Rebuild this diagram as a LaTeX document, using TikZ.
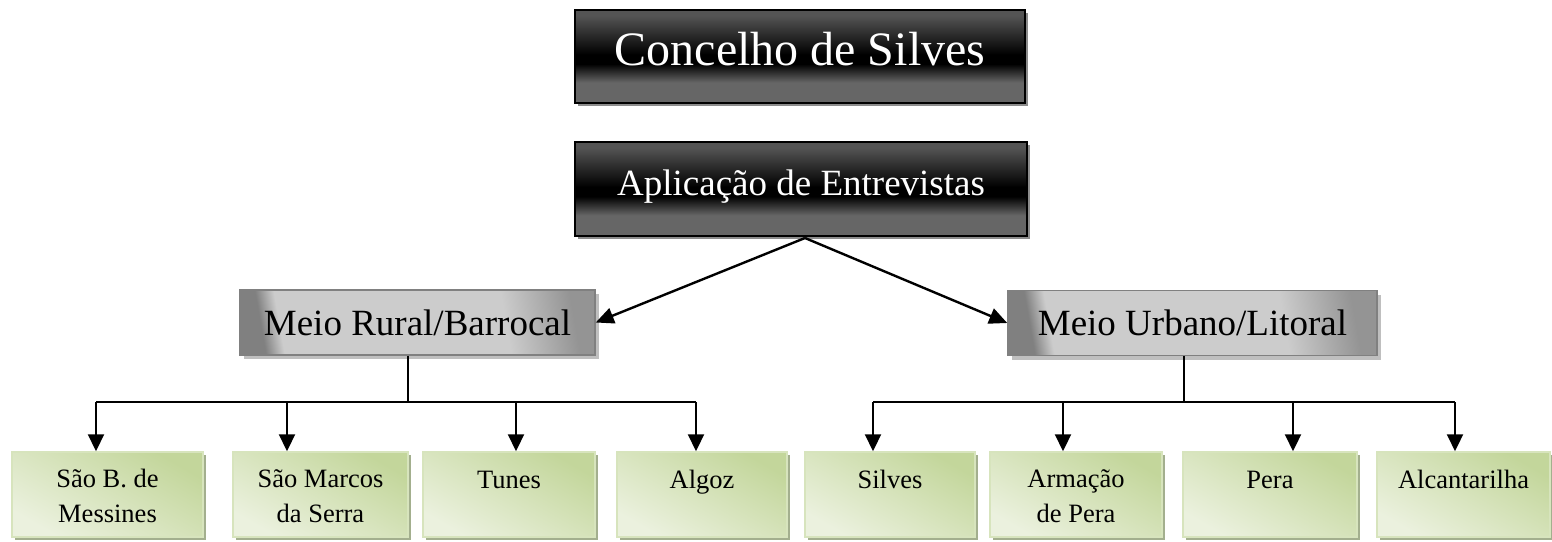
\documentclass[tikz,border=0pt]{standalone}
\usepackage{fontspec}
\setmainfont{Liberation Serif}
\usetikzlibrary{arrows.meta,shadows}

\newlength{\du}
\setlength{\du}{1pt}

\definecolor{dktop}{rgb}{0.33,0.33,0.33}
\definecolor{dkbot}{rgb}{0.40,0.40,0.40}
\definecolor{gydark}{rgb}{0.50,0.50,0.50}
\definecolor{gylight}{rgb}{0.80,0.80,0.80}
\definecolor{gyright}{rgb}{0.58,0.58,0.58}
\definecolor{gyedge}{rgb}{0.50,0.50,0.50}
\definecolor{gnfill}{HTML}{C3D69B}
\definecolor{gnlight}{HTML}{EBF1DE}
\definecolor{gnedge}{HTML}{D7E4BD}
\definecolor{gnshadow}{HTML}{A3AF8E}

\pgfdeclareverticalshading{darkbar}{100bp}{color(0bp)=(dkbot); color(36bp)=(dkbot); color(46bp)=(black); color(51bp)=(black); color(72bp)=(dktop); color(100bp)=(dktop)}
\pgfdeclarehorizontalshading{greybar}{100bp}{color(0bp)=(gydark); color(25bp)=(gydark); color(28bp)=(gylight); color(64bp)=(gylight); color(75bp)=(gyright); color(100bp)=(gyright)}

\tikzset{
  topbox/.style={draw=black, line width=2\du, shading=darkbar, text=white,
    drop shadow={shadow xshift=3\du, shadow yshift=-3\du, fill=black!45, opacity=1}},
  zonebox/.style={draw=gyedge, line width=1.5\du, shading=greybar, shading angle=10,
    minimum height=65\du, font=\fontsize{37}{40}\selectfont, text height=25\du, text depth=0\du,
    drop shadow={shadow xshift=4\du, shadow yshift=-4\du, fill=black!25, opacity=1}},
  placebox/.style={draw=gnedge, line width=1.5\du, top color=gnfill, bottom color=gnlight, shading angle=-30,
    minimum height=85\du, align=center, font=\fontsize{26.5}{35}\selectfont, text height=0\du, text depth=13\du,
    drop shadow={shadow xshift=3\du, shadow yshift=-3\du, fill=gnshadow, opacity=1}},
  twoline/.style={text height=55\du, text depth=0\du},
  diag/.style={-{Triangle[length=18pt,width=16pt]}, line width=2.4\du},
  tree/.style={line width=2.2\du},
  down/.style={tree, -{Triangle[length=17pt,width=16pt]}}
}

\begin{document}
\begin{tikzpicture}[x=\du,y=-\du]
\useasboundingbox (0,0) rectangle (1552,541);

% top level
\node[topbox, minimum width=450\du, minimum height=93\du, font=\fontsize{48}{50}\selectfont,
  text height=32\du, text depth=15\du] (concelho) at (800,56.5) {Concelho de Silves};
\node[topbox, minimum width=452\du, minimum height=94\du, font=\fontsize{37}{40}\selectfont,
  text height=25\du, text depth=13\du] (aplic) at (801,189) {Aplicação de Entrevistas};

% zones
\node[zonebox, minimum width=355\du] (rural) at (417.5,322.5) {Meio Rural/Barrocal};
\node[zonebox, minimum width=369\du] (urbano) at (1192.5,323) {Meio Urbano/Litoral};

\coordinate (apfoot) at (805,238);
\draw[diag] (apfoot) -- (rural.east);
\draw[diag] (apfoot) -- (urbano.west);

% places
\node[placebox, twoline, minimum width=191\du] (messines) at (107.5,494.5) {São B. de\\Messines};
\node[placebox, twoline, minimum width=175\du] (marcos) at (320.5,494.5) {São Marcos\\da Serra};
\node[placebox, minimum width=172\du] (tunes) at (509,494.5) {Tunes};
\node[placebox, minimum width=170\du] (algoz) at (702,494.5) {Algoz};
\node[placebox, minimum width=170\du] (silves) at (890,494.5) {Silves};
\node[placebox, twoline, minimum width=172\du] (armacao) at (1076,494.5) {Armação\\de Pera};
\node[placebox, minimum width=174\du] (pera) at (1270,494.5) {Pera};
\node[placebox, minimum width=173\du] (alcant) at (1463.5,494.5) {Alcantarilha};

% rural tree
\coordinate (rjoin) at (408,402);
\coordinate (r1) at (96,402);
\coordinate (r2) at (287,402);
\coordinate (r3) at (516,402);
\coordinate (r4) at (696,402);
\draw[tree] (rjoin |- rural.south) -- (rjoin);
\draw[tree] (r1) -- (r4);
\draw[down] (r1) -- (r1 |- messines.north);
\draw[down] (r2) -- (r2 |- marcos.north);
\draw[down] (r3) -- (r3 |- tunes.north);
\draw[down] (r4) -- (r4 |- algoz.north);

% urban tree
\coordinate (ujoin) at (1184,402);
\coordinate (u1) at (873,402);
\coordinate (u2) at (1063,402);
\coordinate (u3) at (1293,402);
\coordinate (u4) at (1455,402);
\draw[tree] (ujoin |- urbano.south) -- (ujoin);
\draw[tree] (u1) -- (u4);
\draw[down] (u1) -- (u1 |- silves.north);
\draw[down] (u2) -- (u2 |- armacao.north);
\draw[down] (u3) -- (u3 |- pera.north);
\draw[down] (u4) -- (u4 |- alcant.north);
\end{tikzpicture}
\end{document}
